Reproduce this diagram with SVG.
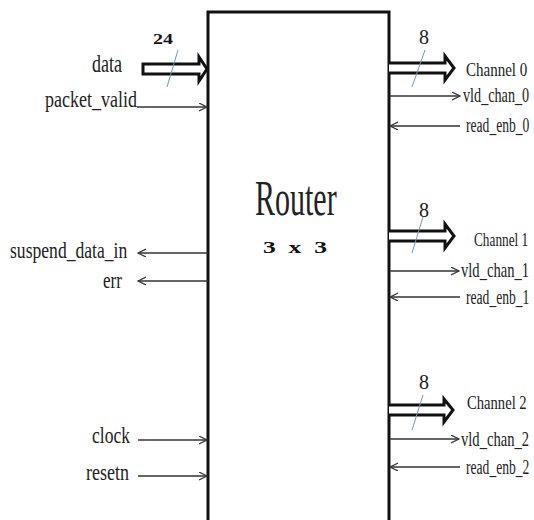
<svg xmlns="http://www.w3.org/2000/svg" width="534" height="520" viewBox="0 0 534 520">
<defs>
<marker id="ah" markerUnits="userSpaceOnUse" markerWidth="10" markerHeight="10" refX="8" refY="4" orient="auto">
<path d="M0,0 L8,4 L0,8" fill="none" stroke="#333" stroke-width="1.2"/>
</marker>
<style>
.t{font-family:"Liberation Serif","Times New Roman",serif;fill:#222;}
.w{stroke:#333;stroke-width:1.3;fill:none;marker-end:url(#ah);}
.bus{stroke:#111;stroke-width:3;fill:#fff;stroke-linejoin:miter;}
.sl{stroke:#7a93b0;stroke-width:1;}
.b{font-family:"Liberation Serif","Times New Roman",serif;font-weight:bold;fill:#111;}
</style>
</defs>
<rect width="534" height="520" fill="#fff"/>
<g id="router">
<path d="M208,522 V12 H389 V522" fill="none" stroke="#111" stroke-width="3"/>
<text class="t" transform="translate(255 215) scale(0.6 1)" font-size="50">Router</text>
<text class="b" x="263" y="253" font-size="17" textLength="64" lengthAdjust="spacingAndGlyphs" xml:space="preserve">3  x  3</text>
</g>
<g id="connectors">
<path class="bus" d="M143,64 H199 V57 L207,69 L199,81 V74 H143 Z"/>
<path class="bus" d="M389,63 H445 V56 L454,68 L445,80 V73 H389"/>
<path class="bus" d="M389,231 H445 V224 L454,236 L445,248 V241 H389"/>
<path class="bus" d="M389,405 H444 V399 L453,410 L444,422 V415 H389"/>
<line class="sl" x1="178" y1="50" x2="167" y2="87"/>
<line class="sl" x1="425" y1="50" x2="412" y2="87"/>
<line class="sl" x1="423" y1="217" x2="412" y2="253"/>
<line class="sl" x1="423" y1="395" x2="412" y2="430"/>
<line class="w" x1="137" y1="107" x2="207" y2="107"/>
<line class="w" x1="208" y1="253" x2="138" y2="253"/>
<line class="w" x1="208" y1="281" x2="138" y2="281"/>
<line class="w" x1="138" y1="440" x2="207" y2="440"/>
<line class="w" x1="138" y1="476" x2="207" y2="476"/>
<line class="w" x1="390" y1="96" x2="460" y2="96"/>
<line class="w" x1="460" y1="126" x2="390" y2="126"/>
<line class="w" x1="390" y1="271" x2="459" y2="271"/>
<line class="w" x1="460" y1="297" x2="390" y2="297"/>
<line class="w" x1="390" y1="439" x2="459" y2="439"/>
<line class="w" x1="460" y1="467" x2="390" y2="467"/>
</g>
<g id="in-data">
<text class="t" transform="translate(92 72) scale(0.72 1)" font-size="25">data</text>
<text class="b" x="153" y="44" font-size="14" textLength="20" lengthAdjust="spacingAndGlyphs">24</text>
</g>
<g id="in-packet-valid"><text class="t" transform="translate(45 107) scale(0.75 1)" font-size="24">packet_valid</text></g>
<g id="out-suspend"><text class="t" transform="translate(10 258) scale(0.765 1)" font-size="23">suspend_data_in</text></g>
<g id="out-err"><text class="t" transform="translate(103 288) scale(0.745 1)" font-size="23">err</text></g>
<g id="in-clock"><text class="t" transform="translate(92 443) scale(0.73 1)" font-size="24">clock</text></g>
<g id="in-resetn"><text class="t" transform="translate(86 480) scale(0.75 1)" font-size="24">resetn</text></g>
<g id="channel0">
<text class="t" x="419" y="44" font-size="21" textLength="10" lengthAdjust="spacingAndGlyphs">8</text>
<text class="t" transform="translate(466 76) scale(0.79 1)" font-size="19">Channel 0</text>
<text class="t" transform="translate(463 102) scale(0.71 1)" font-size="20">vld_chan_0</text>
<text class="t" transform="translate(466 132) scale(0.68 1)" font-size="20">read_enb_0</text>
</g>
<g id="channel1">
<text class="t" x="419" y="217" font-size="21" textLength="10" lengthAdjust="spacingAndGlyphs">8</text>
<text class="t" transform="translate(474 246) scale(0.7 1)" font-size="19">Channel 1</text>
<text class="t" transform="translate(461 277) scale(0.73 1)" font-size="20">vld_chan_1</text>
<text class="t" transform="translate(466 304) scale(0.68 1)" font-size="20">read_enb_1</text>
</g>
<g id="channel2">
<text class="t" x="419" y="389" font-size="21" textLength="10" lengthAdjust="spacingAndGlyphs">8</text>
<text class="t" transform="translate(467 409) scale(0.77 1)" font-size="19">Channel 2</text>
<text class="t" transform="translate(461 446) scale(0.73 1)" font-size="20">vld_chan_2</text>
<text class="t" transform="translate(466 474) scale(0.68 1)" font-size="20">read_enb_2</text>
</g>
</svg>
